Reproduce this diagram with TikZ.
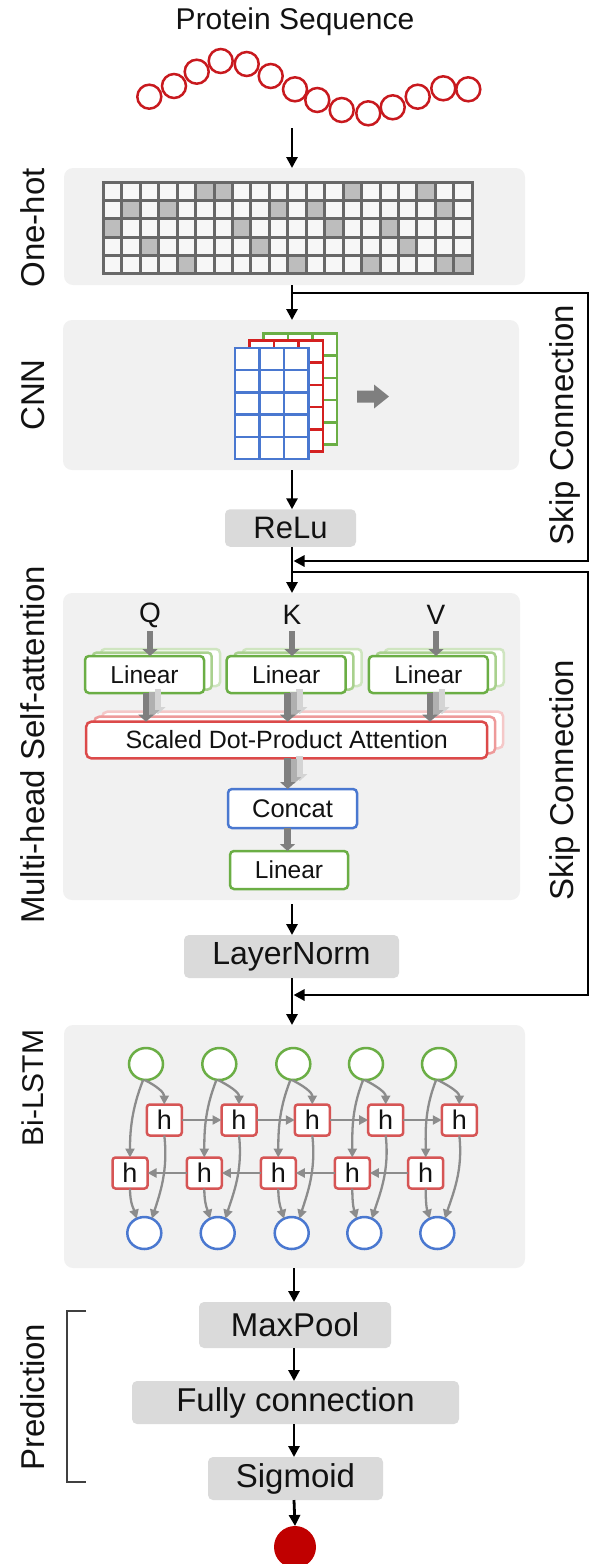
\documentclass[tikz,border=0pt]{standalone}
\usepackage{fontspec}
\setmainfont{Liberation Sans}
\usetikzlibrary{arrows.meta,shapes.geometric,calc}
\definecolor{panelbg}{HTML}{F1F1F1}
\definecolor{boxgray}{HTML}{DADADA}
\definecolor{pred}{HTML}{C8191E}
\definecolor{pgreen}{HTML}{6BAE45}
\definecolor{lgreenA}{HTML}{A9D18E}
\definecolor{lgreenB}{HTML}{CFE5C0}
\definecolor{pblue}{HTML}{4A78D0}
\definecolor{cnnred}{HTML}{D42020}
\definecolor{pboxred}{HTML}{DC4A4A}
\definecolor{lredA}{HTML}{EE9A9A}
\definecolor{lredB}{HTML}{F5C8C8}
\definecolor{hred}{HTML}{D65555}
\definecolor{arrgray}{HTML}{7F7F7F}
\definecolor{garrA}{HTML}{B0B0B0}
\definecolor{garrB}{HTML}{D4D4D4}
\definecolor{lstmgray}{HTML}{8C8C8C}
\definecolor{gridgray}{HTML}{686868}
\definecolor{cellshade}{HTML}{BDBDBD}
\definecolor{cellwhite}{HTML}{F7F7F7}
\definecolor{dotred}{HTML}{C00000}
\definecolor{brk}{HTML}{404040}
\begin{document}
\begin{tikzpicture}[x=1pt,y=-1pt,
  every node/.style={inner sep=0pt, outer sep=0pt, text=black!93},
  panel/.style={fill=panelbg, rounded corners=9pt},
  gbox/.style={fill=boxgray, rounded corners=5pt},
  aa/.style={circle, draw=pred, line width=2.5pt, minimum size=24pt},
  blk/.style={-{Triangle[length=11pt,width=11pt]}, line width=2.8pt, black},
  skipline/.style={-{Triangle[length=11pt,width=11pt]}, line width=2.8pt, black},
  garr/.style={-{Triangle[length=7pt,width=15pt]}, line width=6.5pt},
  linbox/.style={rectangle, rounded corners=4pt, fill=white, line width=2.5pt, minimum width=119pt, minimum height=37pt, font=\fontsize{24.5}{24.5}\selectfont},
  sdpabox/.style={rectangle, rounded corners=5pt, fill=white, line width=2.5pt, minimum width=401pt, minimum height=36.6pt, font=\fontsize{25}{25}\selectfont},
  sidelab/.style={rotate=90, font=\fontsize{33}{33}\selectfont},
  skiplab/.style={rotate=90, font=\fontsize{33}{33}\selectfont},
  gcirc/.style={ellipse, draw=pgreen, fill=white, line width=2.5pt, minimum width=34pt, minimum height=32pt},
  bcirc/.style={ellipse, draw=pblue, fill=white, line width=2.5pt, minimum width=34pt, minimum height=32pt},
  hbox/.style={rectangle, rounded corners=3pt, draw=hred, fill=white, line width=2.5pt, minimum width=35pt, minimum height=31pt, font=\fontsize{27}{27}\selectfont},
  larr/.style={-{Triangle[length=9pt,width=9pt]}, line width=2.3pt, draw=lstmgray}
]
\useasboundingbox (0,0) rectangle (590,1564);
\coordinate (ax) at (292,0);

% ---------- title and protein chain
\node[font=\fontsize{30}{30}\selectfont] (title) at (295,22) {Protein Sequence};
\foreach \i/\x/\y in {1/149.3/96.7,2/174/86,3/196.7/71.7,4/220.7/61,5/246.7/64,6/270.7/76,7/295/89.3,8/317.3/100,9/341.7/110,10/368.3/113.3,11/392.7/107.3,12/417.7/96.7,13/443.3/88.3,14/468.3/89.3}
  \node[aa] (p\i) at (\x,\y) {};
\coordinate (pbot) at (292,128);

% ---------- panels
\node[panel, minimum width=461pt, minimum height=117pt] (onehot) at (294.5,226.5) {};
\node[panel, minimum width=456pt, minimum height=150pt] (cnn) at (291,395) {};
\node[panel, minimum width=457pt, minimum height=307pt] (att) at (291.5,746.5) {};
\node[panel, minimum width=461pt, minimum height=243pt] (lstm) at (294.5,1146.5) {};

% ---------- one-hot grid
\fill[cellwhite] (103.3,182.7) rectangle (472.3,273.2);
\foreach \r/\c in {0/5,0/6,0/13,0/17,1/1,1/3,1/9,1/11,1/18,2/0,2/7,2/12,2/15,3/2,3/8,3/16,4/4,4/10,4/14,4/18,4/19}
  \fill[cellshade] (103.3+\c*18.45,182.7+\r*18.1) rectangle ++(18.45,18.1);
\foreach \i in {0,...,20}
  \draw[gridgray, line width=3pt] (103.3+\i*18.45,182.7) -- ++(0,90.5);
\foreach \j in {0,...,5}
  \draw[gridgray, line width=3pt] (101.8,182.7+\j*18.1) -- ++(372,0);

% ---------- CNN feature maps
\foreach \col/\ox/\oy in {pgreen/263.5/333.5, cnnred/249.5/340.5, pblue/235/348}{
  \draw[\col, fill=white, line width=2.5pt] (\ox,\oy) rectangle ++(73.4,111);
  \foreach \k in {1,2} \draw[\col, line width=2.5pt] (\ox+\k*24.47,\oy) -- ++(0,111);
  \foreach \k in {1,...,4} \draw[\col, line width=2.5pt] (\ox,\oy+\k*22.2) -- ++(73.4,0);
}
\fill[arrgray] (357,390.5) -- (374,390.5) -- (374,384.5) -- (389,396.5) -- (374,408.5) -- (374,402.5) -- (357,402.5) -- cycle;

% ---------- ReLu
\node[gbox, minimum width=131pt, minimum height=37.5pt, font=\fontsize{31}{31}\selectfont] (relu) at (290.5,528) {ReLu};

% ---------- attention block
\node[font=\fontsize{28}{28}\selectfont] (q) at (150,615) {Q};
\node[font=\fontsize{28}{28}\selectfont] (k) at (292,615) {K};
\node[font=\fontsize{28}{28}\selectfont] (v) at (436,615) {V};

\foreach \x in {144.5, 286.2, 428.3}{
  \node[linbox, draw=lgreenB] at (\x+16,667.5) {};
  \node[linbox, draw=lgreenA] at (\x+7.7,671) {};
}
\node[linbox, draw=pgreen] (lq) at (144.5,674.5) {Linear};
\node[linbox, draw=pgreen] (lk) at (286.2,674.5) {Linear};
\node[linbox, draw=pgreen] (lv) at (428.3,674.5) {Linear};

\draw[garr, draw=arrgray] (q.south |- 0,631) -- (q.south |- lq.north);
\draw[garr, draw=arrgray] (k.south |- 0,631) -- (k.south |- lk.north);
\draw[garr, draw=arrgray] (v.south |- 0,631) -- (v.south |- lv.north);

\node[sdpabox, draw=lredB] at (302.7,730) {};
\node[sdpabox, draw=lredA] at (294.7,735) {};
\node[sdpabox, draw=pboxred] (sdpa) at (286.7,740) {Scaled Dot-Product Attention};

\foreach \x in {146,287.7,430}{
  \draw[garr, draw=garrB] (\x+12,689) -- (\x+12,714);
  \draw[garr, draw=garrA] (\x+6,692) -- (\x+6,717);
}
\draw[garr, draw=arrgray] (146,0 |- lq.south) -- (146,0 |- sdpa.north);
\draw[garr, draw=arrgray] (287.7,0 |- lk.south) -- (287.7,0 |- sdpa.north);
\draw[garr, draw=arrgray] (430,0 |- lv.south) -- (430,0 |- sdpa.north);

\node[linbox, draw=pblue, minimum width=129pt, minimum height=39pt, font=\fontsize{25.5}{25.5}\selectfont] (concat) at (292.5,808.5) {Concat};
\draw[garr, draw=garrB] (299.7,756) -- (299.7,781);
\draw[garr, draw=garrA] (293.7,759) -- (293.7,784);
\draw[garr, draw=arrgray] (287.7,0 |- sdpa.south) -- (287.7,0 |- concat.north);

\node[linbox, draw=pgreen, minimum width=118pt, minimum height=38pt] (lo) at (289,870) {Linear};
\draw[garr, draw=arrgray] (287.5,0 |- concat.south) -- (287.5,0 |- lo.north);

\node[gbox, minimum width=215pt, minimum height=43pt, font=\fontsize{32}{32}\selectfont] (ln) at (291.5,956.5) {LayerNorm};

% ---------- Bi-LSTM
\foreach \i/\x in {0/146,1/219.3,2/293.3,3/366,4/439}
  \node[gcirc] (g\i) at (\x,1064) {};
\foreach \i/\x in {0/164.3,1/239,2/312.3,3/385.7,4/459.3}
  \node[hbox] (hu\i) at (\x,1120) {h};
\foreach \i/\x in {0/130,1/204.3,2/278.3,3/352.3,4/425.7}
  \node[hbox] (hl\i) at (\x,1173) {h};
\foreach \i/\x in {0/144.3,1/217.7,2/291.7,3/364.3,4/437.3}
  \node[bcirc] (b\i) at (\x,1233) {};
\foreach \i/\j in {0/1,1/2,2/3,3/4}{
  \draw[larr] (hu\i.east) -- (hu\j.west);
  \draw[larr] (hl\j.west) -- (hl\i.east);
}
\foreach \i in {0,...,4}{
  \draw[larr] (g\i.-95) .. controls +(12,6) and +(0,-12) .. (hu\i.north);
  \draw[larr] (g\i.-100) .. controls +(-12,30) and +(0,-25) .. (hl\i.north);
  \draw[larr] (hu\i.south) .. controls +(4,35) and +(8,-25) .. (b\i.62);
  \draw[larr] (hl\i.south) .. controls +(0,15) and +(-3,-10) .. (b\i.118);
}

% ---------- prediction
\node[gbox, minimum width=192pt, minimum height=46pt, font=\fontsize{33}{33}\selectfont] (maxp) at (295,1325) {MaxPool};
\node[gbox, minimum width=327pt, minimum height=43pt, font=\fontsize{33}{33}\selectfont] (fc) at (295.5,1402.5) {Fully connection};
\node[gbox, minimum width=175pt, minimum height=43pt, font=\fontsize{33}{33}\selectfont] (sig) at (295.5,1478.5) {Sigmoid};
\node[circle, fill=dotred, minimum size=42pt] (out) at (295,1547) {};
\draw[brk, line width=1.2pt] (86,1311) -- (67,1311) -- (67,1482) -- (86,1482);

% ---------- side labels
\node[sidelab] (l1) at (33,228) {One-hot};
\node[sidelab] (l2) at (33,395) {CNN};
\node[sidelab] (l3) at (33,745) {Multi-head Self-attention};
\node[sidelab, font=\fontsize{30}{30}\selectfont] (l4) at (33,1088) {Bi-LSTM};
\node[sidelab] (l5) at (33,1397) {Prediction};
\node[skiplab] (sk1l) at (565,425) {Skip Connection};
\node[skiplab] (sk2l) at (565,780) {Skip Connection};

% ---------- main flow arrows
\coordinate (attout) at ($(att.south -| ax)+(0,4)$);
\draw[blk] (pbot) -- (pbot |- onehot.north);
\draw[blk] (onehot.south -| ax) -- (cnn.north -| ax);
\draw[blk] (cnn.south -| ax) -- (relu.north -| ax);
\draw[blk] (relu.south -| ax) -- (att.north -| ax);
\draw[blk] (attout) -- (ln.north -| ax);
\draw[blk] (ln.south -| ax) -- (lstm.north -| ax);
\draw[blk] (294,0 |- lstm.south) -- (294,0 |- maxp.north);
\draw[blk] (294,0 |- maxp.south) -- (294,0 |- fc.north);
\draw[blk] (294,0 |- fc.south) -- (294,0 |- sig.north);
\draw[blk] (294,0 |- sig.south) -- (out.north);

% ---------- skip connections
\coordinate (s1a) at (292,293);
\coordinate (s1b) at (588,293);
\coordinate (s1c) at (588,561);
\coordinate (s1d) at (293.5,561);
\draw[skipline] (s1a) -- (s1b) -- (s1c) -- (s1d);
\coordinate (s2a) at (292,572);
\coordinate (s2b) at (588,572);
\coordinate (s2c) at (588,995);
\coordinate (s2d) at (293.5,995);
\draw[skipline] (s2a) -- (s2b) -- (s2c) -- (s2d);
\end{tikzpicture}
\end{document}
